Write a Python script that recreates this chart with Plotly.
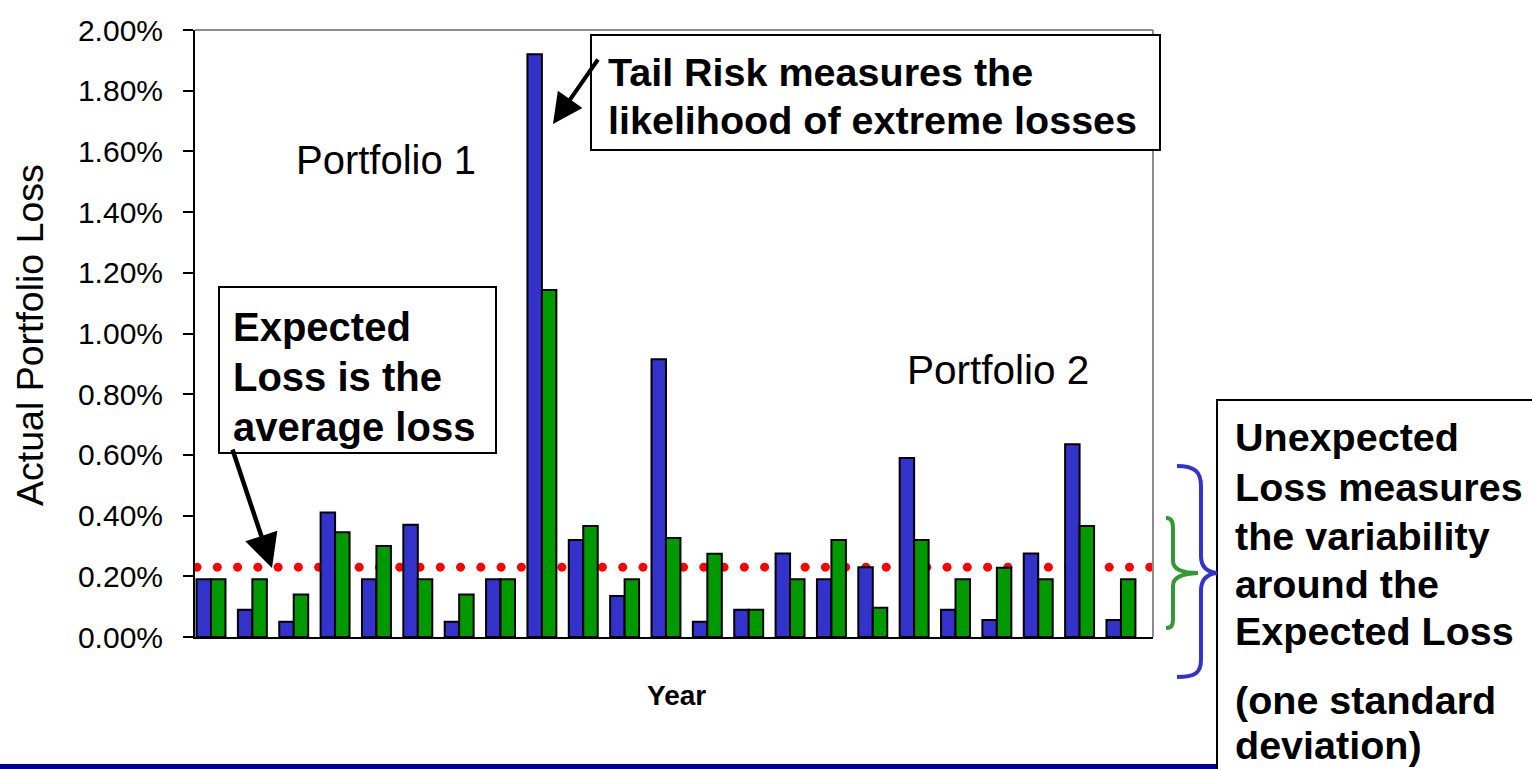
import plotly.graph_objects as go
import numpy as np

# ---------------- data ----------------
years = [str(i) for i in range(1, 24)]
portfolio1 = [0.19, 0.09, 0.05, 0.41, 0.19, 0.37, 0.05, 0.19, 1.92, 0.32, 0.135, 0.915,
              0.05, 0.09, 0.275, 0.19, 0.23, 0.59, 0.09, 0.056, 0.275, 0.635, 0.056]
portfolio2 = [0.19, 0.19, 0.14, 0.345, 0.30, 0.19, 0.14, 0.19, 1.143, 0.366, 0.19, 0.326,
              0.274, 0.09, 0.19, 0.32, 0.096, 0.32, 0.19, 0.228, 0.19, 0.366, 0.19]
expected_loss = 0.23
y_tick_vals = [0.0, 0.2, 0.4, 0.6, 0.8, 1.0, 1.2, 1.4, 1.6, 1.8, 2.0]
y_tick_text = ["%.2f%%" % v for v in y_tick_vals]
n_dots = 48

# ---------------- layout geometry (pixels) ----------------
W, H = 1532, 769
L, R, T, B = 195, 1153, 30, 637
PW, PH = R - L, B - T


def px(x):
    return (x - L) / PW


def py(y):
    return (B - y) / PH


FONT = "Liberation Sans, Arial, sans-serif"

fig = go.Figure()

# dotted expected-loss line (on base axes so bars are drawn above it)
fig.add_trace(go.Scatter(
    x=np.arange(n_dots), y=[expected_loss] * n_dots, mode="markers",
    marker=dict(color="#FF0000", size=9, line=dict(width=0)),
    xaxis="x", yaxis="y", showlegend=False, hoverinfo="skip"))

# bars
fig.add_trace(go.Bar(x=years, y=portfolio1, name="Portfolio 1",
                     marker=dict(color="#3333CC", line=dict(color="black", width=2)),
                     xaxis="x2", yaxis="y"))
fig.add_trace(go.Bar(x=years, y=portfolio2, name="Portfolio 2",
                     marker=dict(color="#009900", line=dict(color="black", width=2)),
                     xaxis="x2", yaxis="y"))


def path(cmds):
    out = []
    for c in cmds:
        if isinstance(c, str):
            out.append(c)
        else:
            out.append("%.5f,%.5f" % (px(c[0]), py(c[1])))
    return " ".join(out)


blue_brace = path(["M", (1177, 466), "C", (1195, 466), (1201, 472), (1201, 486),
                   "L", (1201, 556), "C", (1201, 567), (1207, 572), (1217, 573),
                   "C", (1207, 574), (1201, 580), (1201, 591),
                   "L", (1201, 660), "C", (1201, 673), (1195, 677), (1177, 677)])
green_brace = path(["M", (1166, 518), "C", (1172, 518), (1173, 522), (1173, 530),
                    "L", (1173, 561), "C", (1173, 569), (1180, 573), (1198, 573),
                    "C", (1180, 574), (1173, 578), (1173, 586),
                    "L", (1173, 618), "C", (1173, 625), (1172, 628), (1166, 628)])

shapes = [
    # gray top/right frame
    dict(type="line", xref="paper", yref="paper", x0=0, x1=1, y0=1, y1=1,
         line=dict(color="#8c8c8c", width=2)),
    dict(type="line", xref="paper", yref="paper", x0=1, x1=1, y0=0, y1=1,
         line=dict(color="#8c8c8c", width=2)),
    # annotation boxes
    dict(type="rect", xref="paper", yref="paper", x0=px(219), x1=px(496), y0=py(453), y1=py(287),
         fillcolor="white", line=dict(color="black", width=2), layer="above"),
    dict(type="rect", xref="paper", yref="paper", x0=px(591), x1=px(1160), y0=py(150), y1=py(35),
         fillcolor="white", line=dict(color="black", width=2), layer="above"),
    dict(type="rect", xref="paper", yref="paper", x0=px(1217), x1=px(1545), y0=py(785), y1=py(400),
         fillcolor="white", line=dict(color="black", width=2), layer="above"),
    # bottom navy rule
    dict(type="line", xref="paper", yref="paper", x0=px(0), x1=px(1216), y0=py(766.5), y1=py(766.5),
         line=dict(color="#000090", width=5)),
    # braces
    dict(type="path", xref="paper", yref="paper", path=blue_brace,
         line=dict(color="#3333CC", width=4)),
    dict(type="path", xref="paper", yref="paper", path=green_brace,
         line=dict(color="#339933", width=4)),
]


def txt(s, x, y, size, bold=False, xanchor="left", angle=0):
    return dict(text=("<b>%s</b>" % s) if bold else s, xref="paper", yref="paper",
                x=px(x), y=py(y), xanchor=xanchor, yanchor="middle", showarrow=False,
                textangle=angle, font=dict(family=FONT, size=size, color="black"))


annotations = [
    txt("Actual Portfolio Loss", 30, 335, 37.5, angle=-90, xanchor="center"),
    txt("Year", 676, 695, 28, bold=True, xanchor="center"),
    txt("Portfolio 1", 386, 160, 40, xanchor="center"),
    txt("Portfolio 2", 998, 370, 40.5, xanchor="center"),
    txt("Expected", 231, 327, 40, bold=True),
    txt("Loss is the", 231, 377, 40, bold=True),
    txt("average loss", 231, 427, 40, bold=True),
    txt("Tail Risk measures the", 606, 72, 39.5, bold=True),
    txt("likelihood of extreme losses", 606, 120, 39.5, bold=True),
    txt("Unexpected", 1233, 437, 39.5, bold=True),
    txt("Loss measures", 1233, 487, 39.5, bold=True),
    txt("the variability", 1233, 536, 39.5, bold=True),
    txt("around the", 1233, 584, 39.5, bold=True),
    txt("Expected Loss", 1233, 631, 39.5, bold=True),
    txt("(one standard", 1233, 700, 39.5, bold=True),
    txt("deviation)", 1233, 745, 39.5, bold=True),
    # arrows
    dict(text="", xref="paper", yref="paper", x=px(272), y=py(568), ax=232 - 272, ay=448 - 568,
         showarrow=True, arrowhead=2, arrowsize=1.5, arrowwidth=4.5, arrowcolor="black"),
    dict(text="", xref="paper", yref="paper", x=px(553), y=py(124), ax=599 - 553, ay=58 - 124,
         showarrow=True, arrowhead=2, arrowsize=1.5, arrowwidth=4, arrowcolor="black"),
]

fig.update_layout(
    width=W, height=H,
    margin=dict(l=L, r=W - R, t=T, b=H - B, pad=0),
    paper_bgcolor="white", plot_bgcolor="white",
    barmode="group", bargap=0.3, bargroupgap=0.0,
    showlegend=False,
    font=dict(family=FONT, color="black"),
    xaxis=dict(visible=False, range=[-0.1, 47.16], fixedrange=True),
    xaxis2=dict(overlaying="x", anchor="y", type="category", range=[-0.387, 22.775],
                showline=True, linecolor="black", linewidth=2, showgrid=False,
                showticklabels=False, ticks="", zeroline=False),
    yaxis=dict(range=[0, 2.0], tickvals=y_tick_vals, ticktext=y_tick_text,
               showline=True, linecolor="black", linewidth=2, showgrid=False, zeroline=False,
               ticks="outside", ticklen=10, tickwidth=2, tickcolor="black",
               ticklabelstandoff=14,
               tickfont=dict(family=FONT, size=30, color="black")),
    shapes=shapes,
    annotations=annotations,
)

fig.write_html("out.html")
